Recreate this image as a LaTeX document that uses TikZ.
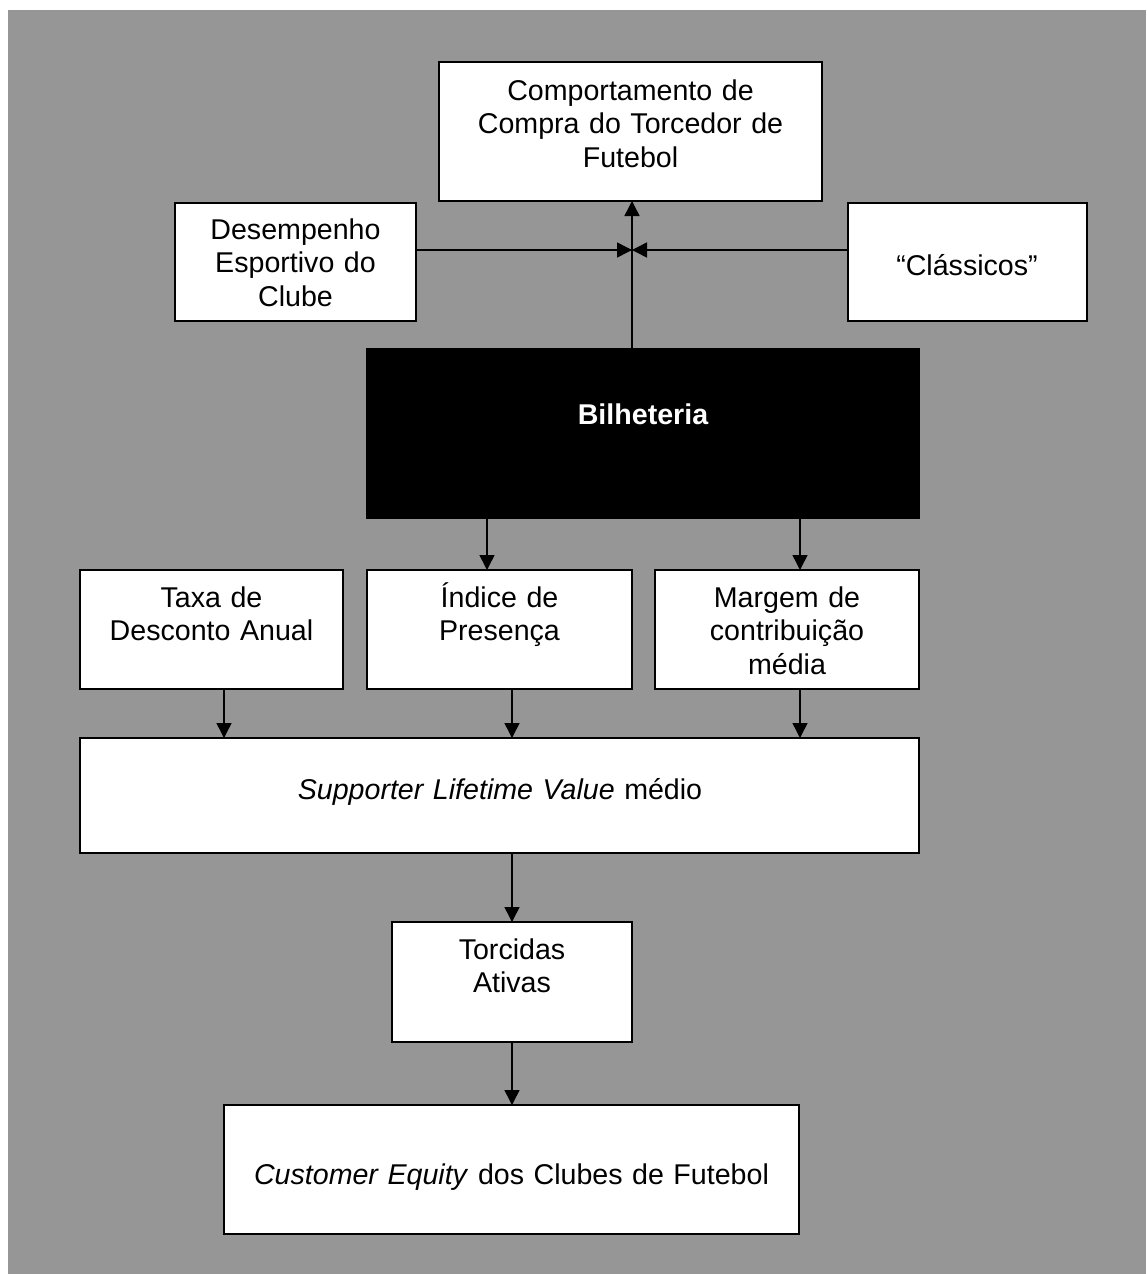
\documentclass[tikz,border=0pt]{standalone}
\usepackage{fontspec}
\setmainfont{Liberation Sans}
\usetikzlibrary{arrows.meta}
\definecolor{bggray}{RGB}{150,150,150}
\tikzset{
  box/.style={draw=black, line width=2pt, fill=white, inner sep=0pt, outer sep=0pt, anchor=north west},
  txt/.style={inner sep=0pt, outer sep=0pt, align=center, anchor=base, font=\fontsize{28.6}{33.5}\selectfont},
  arr/.style={line width=1.5pt, -{Triangle[length=15pt,width=15pt]}}
}
\begin{document}
\begin{tikzpicture}[x=1pt,y=-1pt]
\path[use as bounding box, fill=white] (0,0) rectangle (1146,1274);
\fill[bggray] (8,10) rectangle (1146,1274);

% boxes
\node[box, minimum width=383, minimum height=139] (comp) at (439,62) {};
\node[box, minimum width=241, minimum height=118] (des) at (175,203) {};
\node[box, minimum width=239, minimum height=118] (cla) at (848,203) {};
\node[box, fill=black, minimum width=552, minimum height=169] (bil) at (367,349) {};
\node[box, minimum width=263, minimum height=119] (taxa) at (80,570) {};
\node[box, minimum width=265, minimum height=119] (ind) at (367,570) {};
\node[box, minimum width=264, minimum height=119] (mar) at (655,570) {};
\node[box, minimum width=839, minimum height=115] (slv) at (80,738) {};
\node[box, minimum width=240, minimum height=120] (tor) at (392,922) {};
\node[box, minimum width=575, minimum height=129] (ce) at (224,1105) {};

% texts
\node[txt, text width=380] (compt) at (630.5,100) {Comportamento de\\Compra do Torcedor de\\Futebol};
\node[txt, text width=240] (dest) at (295.5,239) {Desempenho\\Esportivo do\\Clube};
\node[txt, text width=238] (clat) at (967,275) {“Clássicos”};
\node[txt, text width=500, text=white, font=\fontsize{28.6}{33.5}\selectfont\bfseries] (bilt) at (643,424) {Bilheteria};
\node[txt, text width=262] (taxat) at (211.5,607) {Taxa de\\Desconto Anual};
\node[txt, text width=262] (indt) at (499.5,607) {Índice de\\Presença};
\node[txt, text width=262] (mart) at (787,607) {Margem de\\contribuição\\média};
\node[txt, text width=800] (slvt) at (500,799) {\textit{Supporter Lifetime Value} médio};
\node[txt, text width=238] (tort) at (512,959) {Torcidas\\Ativas};
\node[txt, text width=570] (cet) at (511.5,1184) {\textit{Customer Equity} dos Clubes de Futebol};

% connectors
\coordinate (j) at (632,250);
\draw[arr] (bil.north -| j) -- (comp.south -| j);
\draw[arr] (des.east |- j) -- (j);
\draw[arr] (cla.west |- j) -- (j);
\coordinate (b1) at (487,0);
\coordinate (b2) at (800,0);
\draw[arr] (bil.south -| b1) -- (ind.north -| b1);
\draw[arr] (bil.south -| b2) -- (mar.north -| b2);
\coordinate (c1) at (224,0);
\coordinate (c2) at (512,0);
\draw[arr] (taxa.south -| c1) -- (slv.north -| c1);
\draw[arr] (ind.south -| c2) -- (slv.north -| c2);
\draw[arr] (mar.south -| b2) -- (slv.north -| b2);
\draw[arr] (slv.south -| c2) -- (tor.north -| c2);
\draw[arr] (tor.south -| c2) -- (ce.north -| c2);
\end{tikzpicture}
\end{document}
